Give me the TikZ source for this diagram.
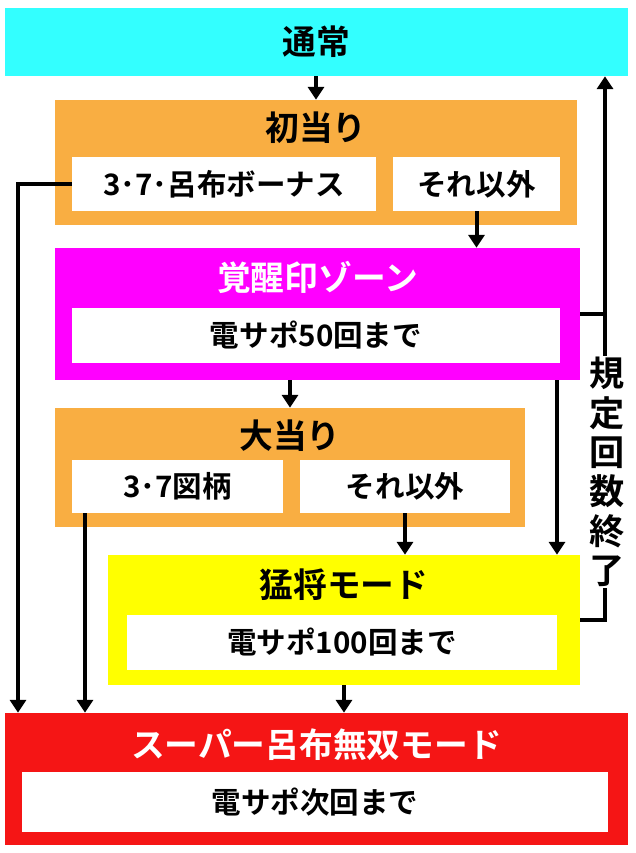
\documentclass[tikz,border=0pt]{standalone}
\usepackage{fontspec}
\setmainfont{Noto Sans CJK JP}[BoldFont={Noto Sans CJK JP Bold}]
\usetikzlibrary{arrows.meta}
\definecolor{tsucyan}{HTML}{33FFFF}
\definecolor{atariorange}{HTML}{F9AE42}
\definecolor{zonemagenta}{HTML}{FF00FF}
\definecolor{moshoyellow}{HTML}{FFFF00}
\definecolor{superred}{HTML}{F51515}

\begin{document}
\begin{tikzpicture}[x=0.025cm, y=-0.025cm, font=\bfseries]
    \tikzstyle{box_style} = [rectangle, inner sep=0pt]
    \tikzstyle{white_style} = [box_style, fill=white, font=\bfseries\fontsize{21}{21}\selectfont]
    \tikzstyle{title_style} = [font=\bfseries\fontsize{24}{24}\selectfont]
    \tikzstyle{line_style} = [line width=1mm, black]
    \tikzstyle{arrow_style} = [line_style, -{Triangle[width=4mm,length=3.2mm]}]

    \useasboundingbox[fill=white] (0,0) rectangle (636,853);

    % boxes
    \node[box_style, fill=tsucyan, minimum width=15.575cm, minimum height=1.7cm] (tsujo) at (316.5,42) {};
    \node[title_style] at (316.5,42) {通常};

    \node[box_style, fill=atariorange, minimum width=13.05cm, minimum height=3.125cm] (hatsu) at (316,162.5) {};
    \node[title_style] at (316,128) {初当り};
    \node[white_style, minimum width=7.6cm, minimum height=1.35cm] (hbonus) at (224,184) {3･7･呂布ボーナス};
    \node[white_style, minimum width=4.175cm, minimum height=1.35cm] (hother) at (476.5,184) {それ以外};

    \node[box_style, fill=zonemagenta, minimum width=13.125cm, minimum height=3.3cm] (kakusei) at (317.5,314) {};
    \node[title_style, white] at (317.5,277) {覚醒印ゾーン};
    \node[white_style, minimum width=12.2cm, minimum height=1.375cm] (kwhite) at (316,335.5) {電サポ50回まで};

    \node[box_style, fill=atariorange, minimum width=11.75cm, minimum height=2.975cm] (oo) at (290,467.5) {};
    \node[title_style] at (290,436) {大当り};
    \node[white_style, minimum width=5.275cm, minimum height=1.325cm] (ozugara) at (177.5,486.5) {3･7図柄};
    \node[white_style, minimum width=5.25cm, minimum height=1.325cm] (oother) at (405,486.5) {それ以外};

    \node[box_style, fill=moshoyellow, minimum width=11.8cm, minimum height=3.25cm] (mosho) at (344,620) {};
    \node[title_style] at (344,585) {猛将モード};
    \node[white_style, minimum width=10.75cm, minimum height=1.375cm] (mwhite) at (342,642.5) {電サポ100回まで};

    \node[box_style, fill=superred, minimum width=15.575cm, minimum height=3.3cm] (super) at (316.5,779) {};
    \node[title_style, white] at (316.5,745) {スーパー呂布無双モード};
    \node[white_style, minimum width=14.65cm, minimum height=1.5cm] (swhite) at (315,802) {電サポ次回まで};

    \coordinate (lx) at (18,0);
    \coordinate (ox) at (85,0);
    \coordinate (rx) at (605,0);
    \coordinate (kx) at (557,0);

    % connectors
    \draw[arrow_style] (tsujo.south -| hatsu.north) -- (hatsu.north);
    \draw[arrow_style] (hbonus.west) -| (super.north -| lx);
    \draw[arrow_style] (hother.south) -- (kakusei.north -| hother.south);
    \draw[arrow_style] (kakusei.south -| oo.north) -- (oo.north);
    \draw[arrow_style] (kakusei.south -| kx) -- (mosho.north -| kx);
    \draw[arrow_style] (kakusei.east) -| (tsujo.south -| rx);
    \draw[line_style] (mosho.east) -| (kakusei.east -| rx);
    \draw[arrow_style] (ozugara.south -| ox) -- (super.north -| ox);
    \draw[arrow_style] (oother.south) -- (mosho.north -| oother.south);
    \draw[arrow_style] (mosho.south) -- (super.north -| mosho.south);

    \node[fill=white, inner sep=1pt, align=center, font=\bfseries\fontsize{25}{28}\selectfont] (kitei) at (607,472) {規\\定\\回\\数\\終\\了};
\end{tikzpicture}
\end{document}
